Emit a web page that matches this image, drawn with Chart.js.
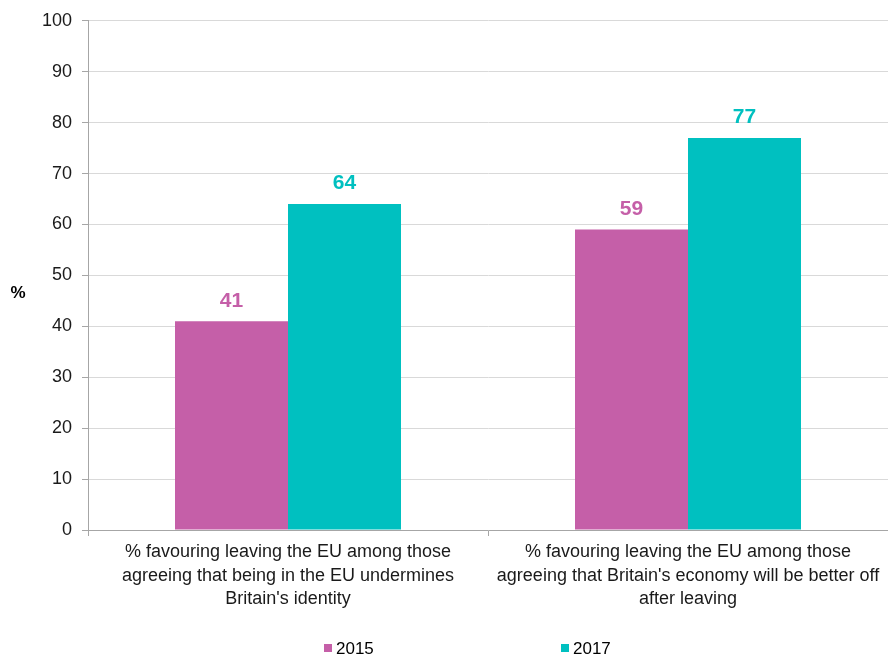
<!DOCTYPE html>
<html><head><meta charset="utf-8">
<script src="https://cdn.jsdelivr.net/npm/chart.js@4/dist/chart.umd.min.js"></script>
<style>html,body{margin:0;padding:0;background:#fff}#wrap{width:888px;height:657px}</style>
</head><body><div id="wrap"><canvas id="c" width="888" height="657"></canvas></div>
<script>
const categories = [
  ["% favouring leaving the EU among those", "agreeing that being in the EU undermines", "Britain's identity"],
  ["% favouring leaving the EU among those", "agreeing that Britain's economy will be better off", "after leaving"]
];
const seriesNames = ["2015", "2017"];
const values2015 = [41, 59];
const values2017 = [64, 77];
const yTicks = [0, 10, 20, 30, 40, 50, 60, 70, 80, 90, 100];
const colors = ["#C55FA8", "#00C0C0"];
const FONT = "'Liberation Sans', Arial, sans-serif";

const extras = {
  id: 'extras',
  afterDatasetsDraw(chart) {
    const ctx = chart.ctx;
    ctx.save();
    ctx.font = "bold 21px " + FONT;
    ctx.textAlign = 'center';
    ctx.textBaseline = 'bottom';
    chart.data.datasets.forEach((ds, i) => {
      chart.getDatasetMeta(i).data.forEach((bar, j) => {
        ctx.fillStyle = ds.backgroundColor;
        ctx.fillText(String(ds.data[j]), bar.x, bar.y - 10);
      });
    });
    // y title upright
    ctx.font = "bold 17px " + FONT;
    ctx.fillStyle = '#000';
    ctx.textBaseline = 'middle';
    ctx.fillText('%', 18, (chart.chartArea.top + chart.chartArea.bottom) / 2 + 18);
    // legend
    ctx.font = "17px " + FONT;
    ctx.textAlign = 'left';
    const starts = [324, 561];
    chart.data.datasets.forEach((ds, i) => {
      const x = starts[i];
      ctx.fillStyle = ds.backgroundColor;
      ctx.fillRect(x, 644, 8, 8);
      ctx.fillStyle = '#000';
      ctx.fillText(ds.label, x + 12, 649);
    });
    ctx.restore();
  }
};

new Chart(document.getElementById('c'), {
  type: 'bar',
  data: {
    labels: categories,
    datasets: [
      { label: seriesNames[0], data: values2015, backgroundColor: colors[0] },
      { label: seriesNames[1], data: values2017, backgroundColor: colors[1] }
    ]
  },
  options: {
    responsive: false,
    animation: false,
    devicePixelRatio: 1,
    layout: { padding: { top: 18, right: 0, bottom: 39, left: 0 } },
    datasets: { bar: { categoryPercentage: 0.565, barPercentage: 1.0 } },
    plugins: { legend: { display: false }, tooltip: { enabled: false } },
    scales: {
      x: {
        grid: { display: true, drawOnChartArea: false, offset: true, tickLength: 6, color: '#a6a6a6' },
        border: { color: '#a6a6a6' },
        ticks: { font: { family: FONT, size: 18, lineHeight: 1.28 }, color: '#1a1a1a', maxRotation: 0, autoSkip: false, padding: 5 },
        afterFit(s) { s.height = 88; }
      },
      y: {
        min: 0, max: 100,
        afterBuildTicks(s) { s.ticks = yTicks.map(v => ({ value: v })); },
        grid: { color: '#d9d9d9', tickLength: 6, tickColor: '#a6a6a6' },
        border: { color: '#a6a6a6' },
        ticks: { font: { family: FONT, size: 18 }, color: '#1a1a1a', padding: 10 },
        afterFit(s) { s.width = 88; }
      }
    }
  },
  plugins: [extras]
});
</script></body></html>
